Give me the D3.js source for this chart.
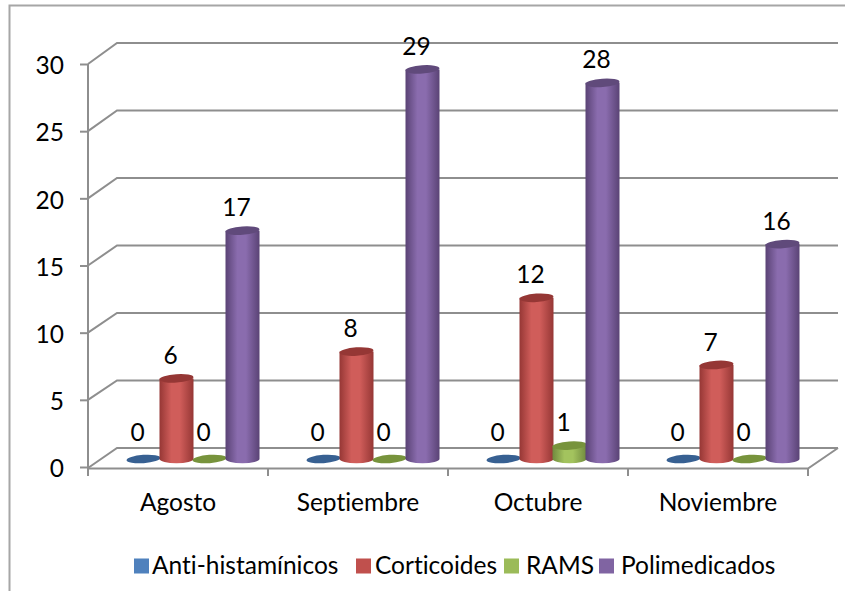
<!DOCTYPE html>
<html>
<head>
<meta charset="utf-8">
<script src="https://d3js.org/d3.v7.min.js"></script>
<style>
    html, body { margin: 0; padding: 0; background: #fff; }
    text { font-family: Lato, sans-serif; fill: #000; font-variant-ligatures: none; }
</style>
</head>
<body>
<svg id="vis" width="845" height="591"></svg>
<script>
const months = ["Agosto", "Septiembre", "Octubre", "Noviembre"];
const series = ["Anti-histamínicos", "Corticoides", "RAMS", "Polimedicados"];
const antihistaminicos = [0, 0, 0, 0];
const corticoides = [6, 8, 12, 7];
const rams = [0, 0, 1, 0];
const polimedicados = [17, 29, 28, 16];
const yTicks = [0, 5, 10, 15, 20, 25, 30];

const values = [antihistaminicos, corticoides, rams, polimedicados];
// side colour, edge shade, lid colour
const colors = [
    ["#4f81bd", "#30557f", "#376092"],
    ["#d05d5a", "#963735", "#953735"],
    ["#a3c35e", "#708a3e", "#77933c"],
    ["#8a6cae", "#5a4375", "#604a7b"]
];
const legendColors = ["#4f81bd", "#c0504d", "#9bbb59", "#8064a2"];
const lineColor = "#8e8e8e";
const fontSize = 24.5;

let svg = d3.select("#vis");

// front plane of the box, the back wall sits up and to the right of it
let x = d3.scaleBand().domain(months).range([88, 808]);
let y = d3.scaleLinear().domain([0, 30]).range([467, 64]);
let yBack = d3.scaleLinear().domain([0, 30]).range([448, 43]);
let yBar = d3.scaleLinear().domain([0, 30]).range([459, 56]);
let inner = d3.scaleBand().domain(series).range([39, 171]);

// outer frame, only top and left show
svg.append("path")
    .attr("d", "M9.5,591V5.5H845")
    .attr("fill", "none")
    .attr("stroke", "#a6a6a6")
    .attr("stroke-width", 2);

let grid = svg.append("g")
    .attr("fill", "none")
    .attr("stroke", lineColor)
    .attr("stroke-width", 2);

yTicks.forEach(t => {
    let front = t == 0 ? 468 : y(t);
    grid.append("path")
        .attr("d", `M88,${front}L117,${yBack(t)}H838`);
});
grid.append("path").attr("d", `M88,${y(30)}V468.5H808L838,${yBack(0)}`);

// category ticks
svg.append("g")
    .selectAll("line")
    .data(months.concat(["end"]))
    .join("line")
    .attr("x1", (d, i) => i < 4 ? x(d) : 808)
    .attr("x2", (d, i) => i < 4 ? x(d) : 808)
    .attr("y1", 468)
    .attr("y2", 476)
    .attr("stroke", lineColor)
    .attr("stroke-width", 2);

// value axis
let axis = svg.append("g")
    .attr("transform", "translate(88,0)")
    .call(d3.axisLeft(y).tickValues(yTicks).tickSize(8).tickPadding(16));
axis.select(".domain").remove();
axis.selectAll("line").attr("stroke", lineColor).attr("stroke-width", 2);
axis.selectAll("text")
    .attr("font-size", fontSize)
    .attr("dy", "0.4em")
    .style("font-family", "Lato, sans-serif")
    .attr("fill", "#000");

// month labels
svg.append("g")
    .selectAll("text")
    .data(months)
    .join("text")
    .attr("x", d => x(d) + x.bandwidth() / 2)
    .attr("y", 511)
    .attr("text-anchor", "middle")
    .attr("font-size", fontSize)
    .text(d => d);

// cylinder shading
let defs = svg.append("defs");
colors.forEach((c, i) => {
    let grad = defs.append("linearGradient").attr("id", "cyl" + i);
    grad.append("stop").attr("offset", "0%").attr("stop-color", c[1]);
    grad.append("stop").attr("offset", "35%").attr("stop-color", c[0]);
    grad.append("stop").attr("offset", "60%").attr("stop-color", c[0]);
    grad.append("stop").attr("offset", "100%").attr("stop-color", c[1]);
});

let rows = [];
months.forEach((m, i) => {
    series.forEach((s, j) => {
        rows.push({ month: m, name: s, idx: j, v: values[j][i] });
    });
});

const rx = 17, ry = 4.2;
let bars = svg.append("g")
    .selectAll("g")
    .data(rows)
    .join("g")
    .attr("transform", d => `translate(${x(d.month) + inner(d.name) + inner.bandwidth() / 2},0)`);

// side wall with a rounded bottom
bars.filter(d => d.v > 0)
    .append("path")
    .attr("d", d => `M${-rx},${yBar(d.v)}V${yBar(0)}A${rx},${ry} 0 0 0 ${rx},${yBar(0)}V${yBar(d.v)}Z`)
    .attr("fill", d => `url(#cyl${d.idx})`);

// lid, tilted a little like the 3d view
bars.append("ellipse")
    .attr("rx", rx)
    .attr("ry", ry)
    .attr("transform", d => `translate(0,${yBar(d.v)}) rotate(-4)`)
    .attr("fill", d => colors[d.idx][2]);

// data labels
bars.append("text")
    .attr("x", -6)
    .attr("y", d => yBar(d.v) - (d.v == 0 ? 27 : 23))
    .attr("dy", "0.35em")
    .attr("text-anchor", "middle")
    .attr("font-size", fontSize)
    .text(d => d.v);

// legend
const legendRect = [134, 356, 504, 599];
const legendText = [152, 375, 526, 621];
let legend = svg.append("g")
    .selectAll("g")
    .data(series)
    .join("g");
legend.append("rect")
    .attr("x", (d, i) => legendRect[i])
    .attr("y", 558.5)
    .attr("width", 15)
    .attr("height", 15)
    .attr("fill", (d, i) => legendColors[i]);
legend.append("text")
    .attr("x", (d, i) => legendText[i])
    .attr("y", 574)
    .attr("font-size", fontSize)
    .text(d => d);
</script>
</body>
</html>
